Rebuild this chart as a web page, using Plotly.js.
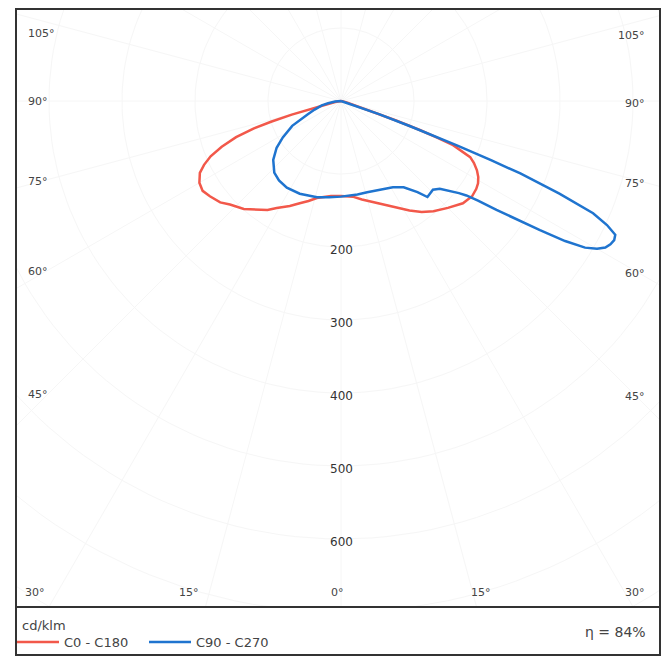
<!DOCTYPE html>
<html><head><meta charset="utf-8">
<script src="https://cdn.plot.ly/plotly-3.0.1.min.js"></script>
<style>html,body{margin:0;padding:0;background:#fff}</style>
</head><body><div id="chart" style="width:671px;height:659px"></div>
<script>
// ---- data (gamma in degrees from nadir, negative = left half-plane; intensity in cd/klm)
const seriesNames = ['C0 - C180', 'C90 - C270'];
const gammaC0 = [-90,-85,-80,-77,-75.5,-74.5,-73.5,-72.5,-71,-69,-67,-65,-63,-60,-57,-54,-50,-47,-42,-38,-34,-31,-26,-22,-18,-14,-10,-6,0,7,12,18,23,28,32,36,40,45,50,54,57,59,61,63,65,66.5,67.5,68.5,69.2,69.8,70.5,71.5,73,76,80,90];
const intensityC0 = [0,3,8,18,40,70,100,125,152,175,194,207,217,224,226,222,216,208,199,189,180,171,160,151,144,137,134,131,130,132,138,146,155,166,177,188,197,207,218,222,221,219,215,209,201,193,180,165,140,115,80,45,20,8,3,0];
const gammaC90 = [-90,-85,-80,-77,-72,-68,-63,-58,-54,-49,-43,-38,-32,-24,-14,-7,0,10,16,25,31,36,38,40,42,46,48.4,50,51,52,53,54,55,56,57,58,59,60,61,62,63,64,65,66,67,68,68.5,69,69.5,70,71,72,74,80,90];
const intensityC90 = [0,8,18,27,38,50,75,94,109,123,134,138,140,139,136,133,131,130,130,133,138,146,154,163,177,175,181,190,198,205,215,232,260,290,325,362,390,405,414,418,420,418,402,378,325,265,220,170,130,100,55,25,8,2,0];
const radialTicks = [200, 300, 400, 500, 600];
const gridRadii = [100, 200, 300, 400, 500, 600, 700, 800, 900];
const gridAngles = [-165,-150,-135,-120,-105,-90,-75,-60,-45,-30,-15,0,15,30,45,60,75,90,105,120,135,150,165,180];
const sideAngleLabels = ['105°', '90°', '75°', '60°', '45°'];
const bottomAngleLabels = ['30°', '15°', '0°', '15°', '30°'];
const unitLabel = 'cd/klm';
const efficiencyLabel = 'η = 84%';

// ---- helpers
const W = 671, H = 659, M = {l: 16, r: 11, t: 9, b: 52};
const PW = W - M.l - M.r, PH = H - M.t - M.b;
const px = x => (x - M.l) / PW;
const py = y => (H - M.b - y) / PH;
const cx = x => x / W;
const cy = y => (H - y) / H;
const rad = d => d * Math.PI / 180;
function polarToXY(g, r) {
  return {x: g.map((a, i) => r[i] * Math.sin(rad(a))), y: g.map((a, i) => -r[i] * Math.cos(rad(a)))};
}

const FONT = 'DejaVu Sans, Arial, sans-serif';
const traces = [];
const gridColor = '#f6f6f6';
gridRadii.forEach(R => {
  const a = []; const r = [];
  for (let t = -180; t <= 180; t += 2) { a.push(t); r.push(R); }
  const p = polarToXY(a, r);
  traces.push({x: p.x, y: p.y, mode: 'lines', line: {color: gridColor, width: 1}, hoverinfo: 'skip', showlegend: false});
});
gridAngles.forEach(A => {
  const p = polarToXY([A, A], [0, 1200]);
  traces.push({x: p.x, y: p.y, mode: 'lines', line: {color: gridColor, width: 1}, hoverinfo: 'skip', showlegend: false});
});

const pC0 = polarToXY(gammaC0, intensityC0);
const pC90 = polarToXY(gammaC90, intensityC90);
traces.push({x: pC0.x, y: pC0.y, mode: 'lines', name: seriesNames[0], line: {color: '#f2584a', width: 2.5}});
traces.push({x: pC90.x, y: pC90.y, mode: 'lines', name: seriesNames[1], line: {color: '#1f74cf', width: 2.5}});

const sc = 0.73; // px per cd/klm
const ox = 341, oy = 101;
const xr = [(M.l - ox) / sc, (W - M.r - ox) / sc];
const yr = [-(H - M.b - oy) / sc, (oy - M.t) / sc];

const annotations = [];
radialTicks.forEach(v => annotations.push({x: 0, y: -v, xref: 'x', yref: 'y', text: String(v), showarrow: false,
  yshift: -3, font: {family: FONT, size: 12, color: '#333'}}));
const sideY = [34, 101, 181, 271, 394];
sideAngleLabels.forEach((t, i) => {
  annotations.push({x: px(26), y: py(sideY[i]), xref: 'paper', yref: 'paper', text: t, showarrow: false, xanchor: 'left', yanchor: 'middle', font: {family: FONT, size: 11, color: '#444'}});
  annotations.push({x: px(647), y: py(sideY[i] + 2), xref: 'paper', yref: 'paper', text: t, showarrow: false, xanchor: 'right', yanchor: 'middle', font: {family: FONT, size: 11, color: '#444'}});
});
const bottomX = [35, 189, 337, 481, 635];
bottomAngleLabels.forEach((t, i) => annotations.push({x: px(bottomX[i]), y: py(592), xref: 'paper', yref: 'paper', text: t, showarrow: false, xanchor: 'center', yanchor: 'middle', font: {family: FONT, size: 11, color: '#444'}}));
annotations.push({x: px(20), y: py(625), xref: 'paper', yref: 'paper', text: unitLabel, showarrow: false, xanchor: 'left', yanchor: 'middle', font: {family: FONT, size: 13, color: '#444'}});
annotations.push({x: px(648), y: py(632), xref: 'paper', yref: 'paper', text: efficiencyLabel, showarrow: false, xanchor: 'right', yanchor: 'middle', font: {family: FONT, size: 14, color: '#444'}});

const shapes = [
  {type: 'rect', xref: 'paper', yref: 'paper', x0: 0, x1: 1, y0: 0, y1: 1, line: {color: '#333', width: 2}},
  {type: 'rect', xref: 'paper', yref: 'paper', x0: 0, x1: 1, y0: py(655), y1: 0, line: {color: '#333', width: 2}}
];

const layout = {
  width: W, height: H, margin: M, paper_bgcolor: '#fff', plot_bgcolor: '#fff',
  xaxis: {range: xr, visible: false, fixedrange: true},
  yaxis: {range: yr, visible: false, fixedrange: true},
  showlegend: true,
  legend: {orientation: 'h', xref: 'container', yref: 'container', x: cx(12), xanchor: 'left', y: cy(627), yanchor: 'top',
    font: {family: FONT, size: 13, color: '#444'}, itemwidth: 42, entrywidth: 75, entrywidthmode: 'pixels',
    bgcolor: 'rgba(0,0,0,0)'},
  annotations: annotations, shapes: shapes
};
Plotly.newPlot('chart', traces, layout, {displayModeBar: false, staticPlot: true});
</script></body></html>
